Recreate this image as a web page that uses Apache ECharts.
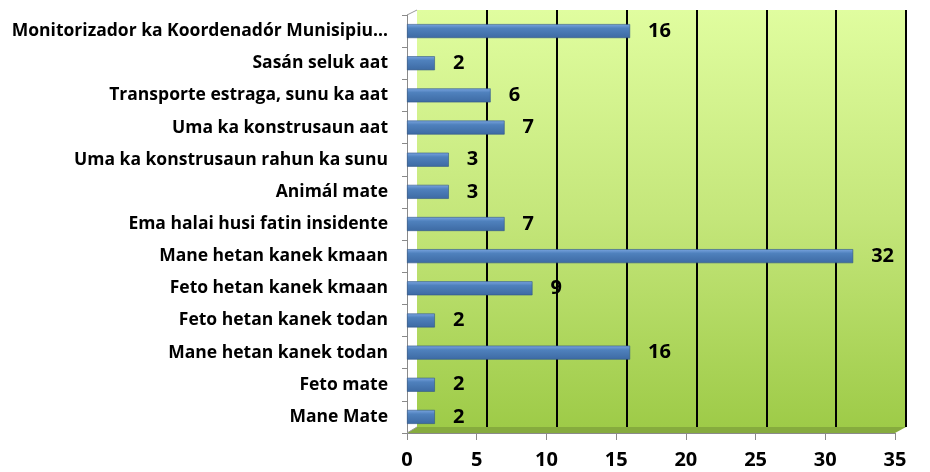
<!DOCTYPE html>
<html>
<head>
<meta charset="utf-8">
<script src="https://cdn.jsdelivr.net/npm/echarts@6/dist/echarts.min.js"></script>
<style>html,body{margin:0;padding:0;background:#fff}#c{width:930px;height:472px}</style>
</head>
<body>
<div id="c"></div>
<script>
const categories = [
  "Monitorizador ka Koordenadór Munisipiu…",
  "Sasán seluk aat",
  "Transporte estraga, sunu ka aat",
  "Uma ka konstrusaun aat",
  "Uma ka konstrusaun rahun ka sunu",
  "Animál mate",
  "Ema halai husi fatin insidente",
  "Mane hetan kanek kmaan",
  "Feto hetan kanek kmaan",
  "Feto hetan kanek todan",
  "Mane hetan kanek todan",
  "Feto mate",
  "Mane Mate"
];
const values = [16, 2, 6, 7, 3, 3, 7, 32, 9, 2, 16, 2, 2];
const xMin = 0, xMax = 35, xStep = 5;

const FONT = "'Open Sans', sans-serif";
const chart = echarts.init(document.getElementById('c'));
chart.setOption({
  animation: false,
  backgroundColor: '#ffffff',
  grid: [
    {left: 407, right: 35, top: 15, bottom: 39, containLabel: false},
    {left: 417, right: 24, top: 10, bottom: 45, show: true, borderWidth: 0, z: 0,
     backgroundColor: new echarts.graphic.LinearGradient(0, 0, 0, 1, [
       {offset: 0, color: '#e0fd9f'}, {offset: 0.5, color: '#c4e67a'}, {offset: 1, color: '#9ecb48'}
     ])}
  ],
  graphic: [
    {type: 'polygon', z: 1, shape: {points: [[407,433],[417,427],[906,427],[895,433]]},
     style: {fill: '#86ab3e'}},
    {type: 'line', z: 2, shape: {x1: 407, y1: 433, x2: 417, y2: 427}, style: {stroke: '#9a9a9a', lineWidth: 1}},
    {type: 'line', z: 2, shape: {x1: 407, y1: 15, x2: 417, y2: 10}, style: {stroke: '#9a9a9a', lineWidth: 1}}
  ],
  xAxis: [
    {type: 'value', gridIndex: 0, min: xMin, max: xMax, interval: xStep,
     axisLine: {show: true, lineStyle: {color: '#8a8a8a', width: 1}},
     axisTick: {show: true, length: 7, lineStyle: {color: '#8a8a8a'}},
     axisLabel: {fontFamily: FONT, fontWeight: 'bold', fontSize: 20, color: '#000', margin: 17},
     splitLine: {show: false}},
    {type: 'value', gridIndex: 1, min: xMin, max: xMax, interval: xStep,
     axisLine: {show: false}, axisTick: {show: false}, axisLabel: {show: false},
     splitLine: {show: true, showMinLine: false, lineStyle: {color: '#000', width: 2}}}
  ],
  yAxis: [
    {type: 'category', gridIndex: 0, data: categories, inverse: true,
     axisLine: {show: true, lineStyle: {color: '#8a8a8a', width: 1}},
     axisTick: {show: true, length: 5, lineStyle: {color: '#8a8a8a'}},
     axisLabel: {fontFamily: FONT, fontWeight: 'bold', fontSize: 17.5, color: '#000', margin: 19}},
    {type: 'category', gridIndex: 1, data: categories, show: false}
  ],
  series: [{
    type: 'bar', xAxisIndex: 0, yAxisIndex: 0, data: values, barWidth: 14, z: 5,
    itemStyle: {
      color: new echarts.graphic.LinearGradient(0, 0, 0, 1, [
        {offset: 0, color: '#7aa5e0'}, {offset: 0.3, color: '#4f81bd'}, {offset: 1, color: '#3d6aa3'}
      ]),
      borderColor: '#2f5586', borderWidth: 0.6
    },
    label: {show: true, position: 'right', distance: 18, fontFamily: FONT, fontWeight: 'bold', fontSize: 20, color: '#000'}
  }]
});
</script>
</body>
</html>
